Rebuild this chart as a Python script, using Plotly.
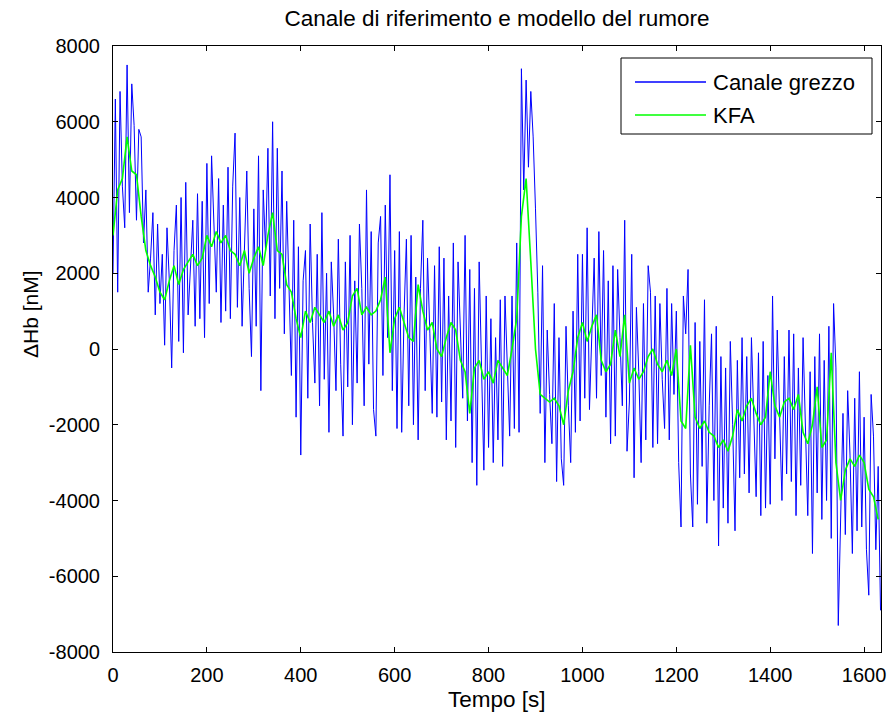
import plotly.graph_objects as go

# ---------------- data ----------------
dt_raw = 5    # s between raw samples
dt_kfa = 10   # s between KFA samples

raw_channel = [
    2000, 6600, 1500, 6800, 4300, 3200, 7500, 3600, 7000, 5900,        # 0-45
    3400, 5800, 5600, 2800, 4200, 1500, 2400, 3600, 900, 3300,         # 50-95
    1200, 2500, 100, 3200, 1800, -500, 2600, 3800, 200, 4000,          # 100-145
    -100, 4400, 900, 2100, 3400, 600, 4100, 800, 3900, 300,            # 150-195
    4900, 1200, 5100, 3300, 1500, 4500, 700, 3800, 1000, 4800,         # 200-245
    800, 4300, 5700, 1100, 4000, 600, 2500, 4700, 1600, -200,          # 250-295
    3700, 600, 5100, -1100, 4200, 2600, 5300, 1400, 6000, 800,         # 300-345
    5300, 1600, 4700, 400, 3900, 1800, -700, 3400, -1800, 2700,        # 350-395
    -2800, 1800, 2600, -1300, 3300, 700, -900, 2500, -1500, 3600,      # 400-445
    -800, 2000, -2200, 2300, 900, -1100, 2900, -400, -2300, 2300,      # 450-495
    -1000, 3000, -2000, 1800, -900, 3300, 1600, -1500, 4200, -400,     # 500-545
    3100, -1600, -2300, 2800, 3500, -700, 3800, 300, 4600, -1100,      # 550-595
    2600, -2100, 3100, -2200, 900, 2900, -1500, 3000, -2000, 1900,     # 600-645
    -2400, 1600, 3400, -1100, 2400, 400, -1700, 2200, -1800, 2700,     # 650-695
    -1400, 2400, -2400, 1400, -1900, 2800, -2600, 2300, 600, -1300,    # 700-745
    3000, -1900, 2100, -3000, 1600, -3600, 2300, -800, -3200, 1400,    # 750-795
    -2600, 800, -3000, 300, -2400, 1300, -3100, 1400, -600, -2300,     # 800-845
    1400, -2100, 2800, -2200, 7400, 4200, 7100, 4800, 6800, 5600,      # 850-895
    3700, 1500, -1700, 2200, -3000, 500, -1200, -2500, 1200, -3500,    # 900-945
    300, -2900, -3600, 600, -1500, -3000, 1000, -2200, 2500, -1900,    # 950-995
    2500, -1300, 3200, -1600, 400, 2400, -1300, 3100, -700, 2600,      # 1000-1045
    -1800, 1800, -2500, 2200, -2300, 2100, 300, -1500, 3400, -2700,    # 1050-1095
    -1400, 2500, -3400, 1100, -600, -3000, 1200, -2400, 2200, 1500,    # 1100-1145
    -2600, 1400, -2500, 1200, -800, -2100, 1600, -2400, 1200, -1200,   # 1150-1195
    1000, -3000, -4700, 1400, 400, 2100, -3300, -4700, 700, -4100,     # 1200-1245
    200, -3100, 1300, -4600, -1500, 400, -4000, 600, -5200, -200,      # 1250-1295
    -4200, -500, -4600, 200, -2000, -4800, -300, -3400, 300, -3300,    # 1300-1345
    -200, -3800, 300, -2100, -3900, -100, -4400, 200, -4200, -700,     # 1350-1395
    -4100, 1400, -2900, 500, -1800, -4000, -200, -3300, 500, -3500,    # 1400-1445
    400, -4400, -500, -3600, 300, -2200, -4400, -600, -5400, -200,     # 1450-1495
    -3800, 400, -4500, -300, -4000, 600, -5000, 1200, -500, -7300,     # 1500-1545
    -4100, -1700, -4900, -1100, -2800, -5400, -1300, -4800, -600, -4700,  # 1550-1595
    -1800, -5300, -6500, -1200, -2300, -5300, -3100, -6900,            # 1600-1635
]

kfa = [
    3000, 4200, 4500, 5600, 4700, 4600, 3500, 2600, 2200, 1900,        # 0-90
    1500, 1300, 1800, 2200, 1700, 2100, 2300, 2500, 2200, 2400,        # 100-190
    3000, 2700, 3100, 2800, 3000, 2600, 2500, 2200, 2600, 2000,        # 200-290
    2400, 2700, 2200, 3000, 3600, 2600, 2500, 1700, 1500, 800,         # 300-390
    300, 1000, 700, 1100, 900, 700, 1000, 600, 900, 500,               # 400-490
    700, 1400, 1600, 900, 1100, 900, 1000, 1300, 1900, -100,           # 500-590
    800, 1100, 700, 300, 200, 1700, 1000, 500, 700, 0,                 # 600-690
    -200, 300, 700, 500, -300, -600, -1700, -500, -300, -800,          # 700-790
    -600, -900, -300, -500, -700, 0, 800, 3500, 4500, 2300,            # 800-890
    0, -1200, -1300, -1400, -1300, -1500, -2000, -1100, -600, 300,     # 900-990
    700, 200, 600, 900, -300, -600, -400, 500, -200, 900,              # 1000-1090
    -900, -500, -800, -600, -200, 0, -400, -600, -300, -700,           # 1100-1190
    0, -1900, -2100, 100, -1800, -2100, -1900, -2200, -2300, -2600,    # 1200-1290
    -2400, -2700, -2300, -1600, -1900, -1500, -1300, -1700, -2000, -1800,  # 1300-1390
    -600, -1500, -1800, -1400, -1300, -1600, -1200, -2200, -2500, -2000,   # 1400-1490
    -1000, -2600, -2400, -100, -3000, -4000, -3200, -2900, -3100, -2800,   # 1500-1590
    -3000, -3700, -3900, -4500,                                         # 1600-1630
]

t_raw = [i * dt_raw for i in range(len(raw_channel))]
t_kfa = [i * dt_kfa for i in range(len(kfa))]

x_tickvals = [0, 200, 400, 600, 800, 1000, 1200, 1400, 1600]
x_ticktext = ["0", "200", "400", "600", "800", "1000", "1200", "1400", "1600"]
y_tickvals = [-8000, -6000, -4000, -2000, 0, 2000, 4000, 6000, 8000]
y_ticktext = ["-8000", "-6000", "-4000", "-2000", "0", "2000", "4000", "6000", "8000"]

series_names = ["Canale grezzo", "KFA"]
series_colors = ["#0000FF", "#00FF00"]
title_text = "Canale di riferimento e modello del rumore"
x_label = "Tempo [s]"
y_label = "\u0394Hb [nM]"

FONT = "Liberation Sans, Arial, sans-serif"
W, H = 888, 713
L, R, T, B = 113, 7, 46, 61
PW, PH = W - L - R, H - T - B

def px(x):  # pixel -> paper x
    return (x - L) / PW

def py(y):  # pixel -> paper y
    return (H - B - y) / PH

fig = go.Figure()
fig.add_trace(go.Scatter(x=t_raw, y=raw_channel, mode="lines", name=series_names[0],
                         line=dict(color=series_colors[0], width=1), showlegend=False))
fig.add_trace(go.Scatter(x=t_kfa, y=kfa, mode="lines", name=series_names[1],
                         line=dict(color=series_colors[1], width=1.6), showlegend=False))

axis_common = dict(showgrid=False, zeroline=False, showline=True, linecolor="black",
                   linewidth=1, mirror="ticks", ticks="inside", ticklen=5,
                   tickcolor="black", tickwidth=1, automargin=False,
                   tickfont=dict(family=FONT, size=20, color="black"))
fig.update_xaxes(range=[0, 1636], tickvals=x_tickvals, ticktext=x_ticktext,
                 ticklabelstandoff=5, **axis_common)
fig.update_yaxes(range=[-8000, 8000], tickvals=y_tickvals, ticktext=y_ticktext,
                 ticklabelstandoff=8, **axis_common)

# legend box drawn by hand (MATLAB-style)
lx0, lx1, ly0, ly1 = 621, 872, 58, 134
shapes = [
    dict(type="rect", xref="paper", yref="paper", x0=px(lx0), x1=px(lx1),
         y0=py(ly1), y1=py(ly0), line=dict(color="black", width=1), fillcolor="white",
         layer="above"),
]
annotations = []
for i, (nm, col) in enumerate(zip(series_names, series_colors)):
    yy = 82 + i * 33
    shapes.append(dict(type="line", xref="paper", yref="paper", x0=px(635), x1=px(706),
                       y0=py(yy), y1=py(yy), line=dict(color=col, width=1.5), layer="above"))
    annotations.append(dict(text=nm, xref="paper", yref="paper", x=px(711), y=py(yy),
                            xanchor="left", yanchor="middle", showarrow=False,
                            font=dict(family=FONT, size=22, color="black")))

annotations.append(dict(text=x_label, xref="paper", yref="paper", x=0.5, y=py(699),
                        xanchor="center", yanchor="middle", showarrow=False,
                        font=dict(family=FONT, size=22.5, color="black")))
annotations.append(dict(text=y_label, xref="paper", yref="paper", x=px(30), y=py(314),
                        xanchor="center", yanchor="middle", showarrow=False, textangle=-90,
                        font=dict(family=FONT, size=21, color="black")))

fig.update_layout(
    width=W, height=H,
    margin=dict(l=L, r=R, t=T, b=B, pad=0, autoexpand=False),
    paper_bgcolor="white", plot_bgcolor="white",
    title=dict(text=title_text, x=0.5, xref="paper", xanchor="center",
               y=1 - 18 / H, yanchor="middle", automargin=False,
               font=dict(family=FONT, size=22.5, color="black")),
    shapes=shapes, annotations=annotations,
    showlegend=False,
)

fig.write_html(
    "out.html",
    config={"displayModeBar": False},
    post_script="document.body.style.margin='0px';document.body.style.padding='0px';"
                "document.body.style.overflow='hidden';",
)
